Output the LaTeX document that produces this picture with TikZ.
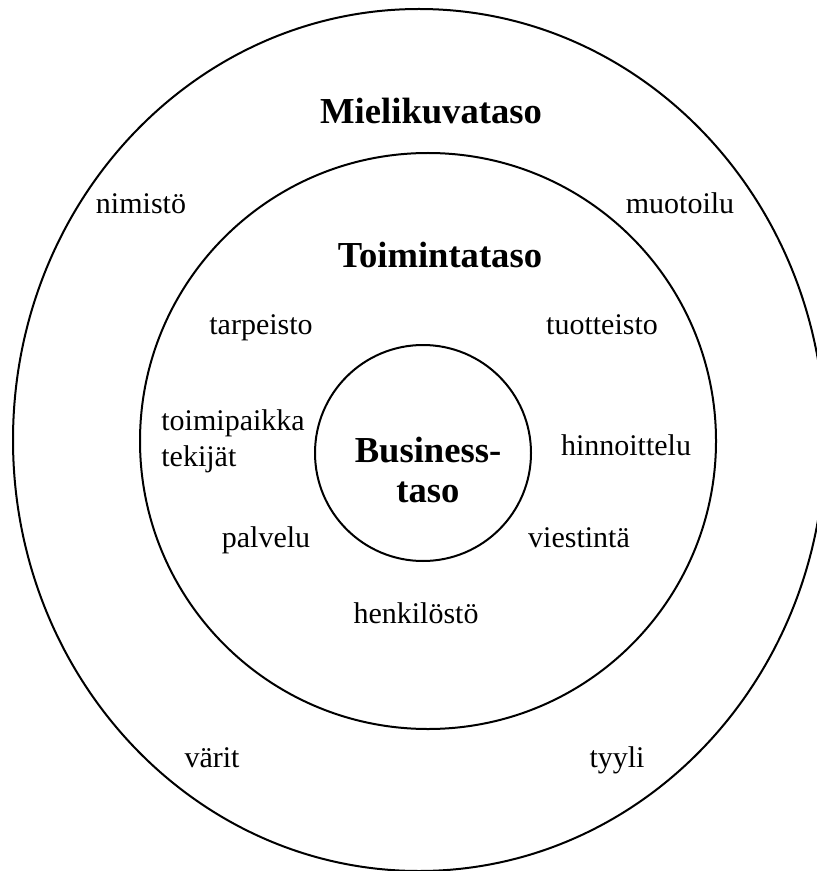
\documentclass[tikz,border=0pt]{standalone}
\usepackage{fontspec}
\setmainfont{Liberation Serif}
\usetikzlibrary{calc}
\tikzstyle{ring}=[draw, line width=1pt]
\tikzstyle{levelname}=[font=\fontsize{18.3}{20}\selectfont\bfseries, inner sep=0pt]
\tikzstyle{item}=[font=\fontsize{15}{18}\selectfont, inner sep=0pt]
\newcommand{\ring}[4]{ % Syntax: (centre x, centre y, x radius, y radius), all in px
  \draw[ring] (#1,#2) ellipse [x radius=#3, y radius=#4];
}
\begin{document}
\begin{tikzpicture}[x=0.5pt, y=-0.5pt]
	\useasboundingbox (0,0) rectangle (817,871);
	\clip (0,0) rectangle (817,871);
	% the three levels
	\ring{419}{440}{406}{431}
	\ring{428}{441}{288}{288}
	\ring{423}{453}{108}{108}
	% level names
	\node[levelname, anchor=base] (mielikuva) at (431,124) {Mielikuvataso};
	\node[levelname, anchor=base] (toiminta) at (440,268) {Toimintataso};
	\node[levelname, align=center] (business) at (428,470) {Business-\\taso};
	% outer level
	\node[item, anchor=base] (nimisto) at (141,214) {nimistö};
	\node[item, anchor=base] (muotoilu) at (680,214) {muotoilu};
	\node[item, anchor=base] (varit) at (212,767) {värit};
	\node[item, anchor=base] (tyyli) at (617,767) {tyyli};
	% middle level
	\node[item, anchor=base] (tarpeisto) at (261,335) {tarpeisto};
	\node[item, anchor=base] (tuotteisto) at (602,335) {tuotteisto};
	\node[item, anchor=west, align=left] (toimipaikka) at (161,441) {toimipaikka\\tekijät};
	\node[item, anchor=base] (hinnoittelu) at (626,455) {hinnoittelu};
	\node[item, anchor=base] (palvelu) at (266,547) {palvelu};
	\node[item, anchor=base] (viestinta) at (579,547) {viestintä};
	\node[item, anchor=base] (henkilosto) at (416,623) {henkilöstö};
\end{tikzpicture}
\end{document}
